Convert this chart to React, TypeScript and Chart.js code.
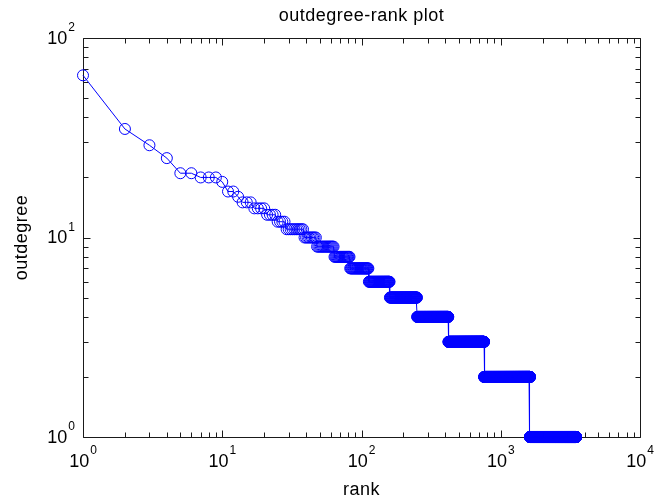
import React, { useEffect, useRef } from "react";
import { Chart, registerables } from "chart.js";

Chart.register(...registerables);

const TITLE = "outdegree-rank plot";
const X_LABEL = "rank";
const Y_LABEL = "outdegree";

// outdegree of the top-ranked nodes (ranks 1..28)
const HEAD_DEGREES = [65, 35, 29, 25, 21, 21, 20, 20, 20, 19, 17, 17, 16, 15, 15, 15, 14, 14, 14, 14, 13, 13, 13, 13, 12, 12, 12, 12];
// remaining nodes: degree value and how many nodes share it (in rank order)
const TAIL_DEGREES = [11, 10, 9, 8, 7, 6, 5, 4, 3, 2, 1];
const TAIL_COUNTS = [10, 9, 16, 19, 30, 47, 91, 170, 339, 862, 1849];

const X_TICK_EXPONENTS = [0, 1, 2, 3, 4];
const Y_TICK_EXPONENTS = [0, 1, 2];

const FONT = '"Liberation Sans", Arial, sans-serif';
const BLUE = "#0000ff";
const AXIS = "#1a1a1a";

function buildPoints() {
  const pts: { x: number; y: number }[] = [];
  HEAD_DEGREES.forEach((d, i) => pts.push({ x: i + 1, y: d }));
  let rank = HEAD_DEGREES.length;
  TAIL_DEGREES.forEach((d, i) => {
    for (let k = 0; k < TAIL_COUNTS[i]; k++) {
      rank += 1;
      pts.push({ x: rank, y: d });
    }
  });
  return pts;
}

function drawPow(ctx: CanvasRenderingContext2D, exp: number, x: number, y: number, align: "center" | "right") {
  ctx.font = `18px ${FONT}`;
  const base = "10";
  const wb = ctx.measureText(base).width;
  ctx.font = `12px ${FONT}`;
  const es = String(exp);
  const we = ctx.measureText(es).width;
  const total = wb + 1 + we;
  const sx = align === "center" ? x - total / 2 : x - total;
  ctx.textAlign = "left";
  ctx.textBaseline = "middle";
  ctx.font = `18px ${FONT}`;
  ctx.fillText(base, sx, y);
  ctx.font = `12px ${FONT}`;
  ctx.fillText(es, sx + wb + 1, y - 11);
}

const axesPlugin = {
  id: "matlabAxes",
  beforeDatasetsDraw(chart: any) {
    const { ctx, chartArea, scales } = chart;
    const { left, right, top, bottom } = chartArea;
    const xs = scales.x;
    const ys = scales.y;
    ctx.save();
    ctx.strokeStyle = AXIS;
    ctx.lineWidth = 1;
    const L = Math.round(left) + 0.5;
    const R = Math.round(right) + 0.5;
    const T = Math.round(top) + 0.5;
    const B = Math.round(bottom) + 0.5;
    ctx.beginPath();
    ctx.rect(L, T, R - L, B - T);
    ctx.stroke();
    ctx.beginPath();
    for (let e = X_TICK_EXPONENTS[0]; e <= X_TICK_EXPONENTS[X_TICK_EXPONENTS.length - 1]; e++) {
      for (let m = 1; m <= 9; m++) {
        const v = m * Math.pow(10, e);
        if (v > xs.max + 1e-9) break;
        const px = Math.round(xs.getPixelForValue(v)) + 0.5;
        const len = m === 1 ? 7 : 5;
        ctx.moveTo(px, B);
        ctx.lineTo(px, B - len);
        ctx.moveTo(px, T);
        ctx.lineTo(px, T + len);
      }
    }
    for (let e = Y_TICK_EXPONENTS[0]; e <= Y_TICK_EXPONENTS[Y_TICK_EXPONENTS.length - 1]; e++) {
      for (let m = 1; m <= 9; m++) {
        const v = m * Math.pow(10, e);
        if (v > ys.max + 1e-9) break;
        const py = Math.round(ys.getPixelForValue(v)) + 0.5;
        const len = m === 1 ? 7 : 5;
        ctx.moveTo(L, py);
        ctx.lineTo(L + len, py);
        ctx.moveTo(R, py);
        ctx.lineTo(R - len, py);
      }
    }
    ctx.stroke();
    ctx.restore();
  },
  afterDraw(chart: any) {
    const { ctx, chartArea, scales } = chart;
    const { left, right, top, bottom } = chartArea;
    const xs = scales.x;
    const ys = scales.y;
    ctx.save();
    ctx.fillStyle = "#000";
    X_TICK_EXPONENTS.forEach((e) => {
      drawPow(ctx, e, xs.getPixelForValue(Math.pow(10, e)), bottom + 25, "center");
    });
    Y_TICK_EXPONENTS.forEach((e) => {
      drawPow(ctx, e, left - 8, ys.getPixelForValue(Math.pow(10, e)) + 1, "right");
    });
    ctx.font = `18px ${FONT}`;
    (ctx as any).letterSpacing = "0.5px";
    ctx.textAlign = "center";
    ctx.textBaseline = "middle";
    const cx = (left + right) / 2;
    ctx.fillText(TITLE, cx, top - 22);
    ctx.fillText(X_LABEL, cx, bottom + 53);
    ctx.translate(22, (top + bottom) / 2);
    ctx.rotate(-Math.PI / 2);
    ctx.fillText(Y_LABEL, 0, 0);
    ctx.restore();
  },
};

export default function App() {
  const ref = useRef<HTMLCanvasElement | null>(null);
  useEffect(() => {
    if (!ref.current) return;
    const chart = new Chart(ref.current, {
      type: "line",
      data: {
        datasets: [
          {
            data: buildPoints(),
            borderColor: BLUE,
            borderWidth: 1,
            pointStyle: "circle",
            pointRadius: 5.5,
            pointBorderWidth: 1,
            pointBorderColor: BLUE,
            pointBackgroundColor: "rgba(0,0,0,0)",
            tension: 0,
            clip: false as any,
          },
        ],
      },
      options: {
        animation: false,
        responsive: false,
        devicePixelRatio: 1,
        parsing: false as any,
        normalized: true,
        layout: { padding: { left: 83, right: 17, top: 38, bottom: 65 } },
        plugins: { legend: { display: false }, tooltip: { enabled: false }, title: { display: false } },
        events: [],
        scales: {
          x: { type: "logarithmic", min: 1, max: 10000, display: false },
          y: { type: "logarithmic", min: 1, max: 100, display: false },
        },
      },
      plugins: [axesPlugin],
    });
    return () => chart.destroy();
  }, []);
  return (
    <div style={{ position: "fixed", left: 0, top: 0, width: 657, height: 502, background: "#fff" }}>
      <canvas ref={ref} width={657} height={502} style={{ display: "block" }} />
    </div>
  );
}
